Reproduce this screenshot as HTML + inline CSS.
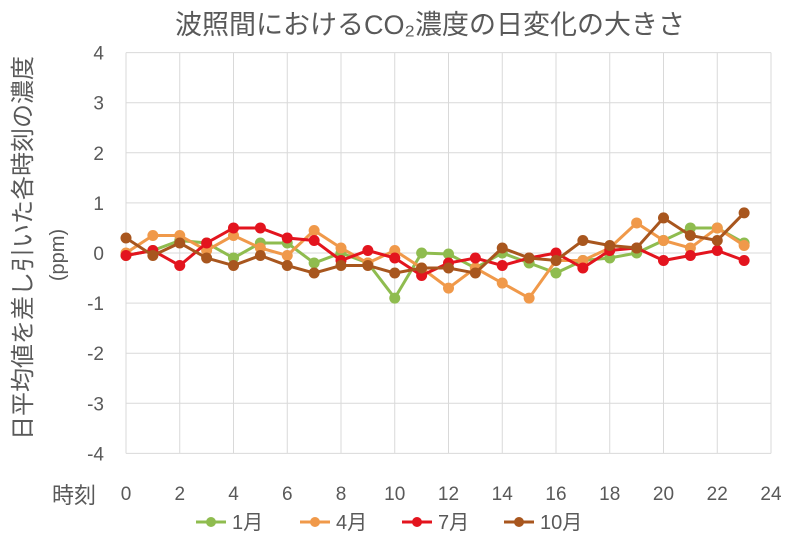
<!DOCTYPE html><html><head><meta charset="utf-8"><style>body{margin:0;background:#fff}svg{display:block}</style></head><body>
<svg width="800" height="545" xmlns="http://www.w3.org/2000/svg" font-family="Liberation Sans, Noto Sans CJK JP, sans-serif">
<text x="430" y="34" font-size="27" text-anchor="middle" fill="#595959">波照間におけるCO₂濃度の日変化の大きさ</text>
<g id="grid" stroke="#d9d9d9" stroke-width="1"></g>
<g id="lab" font-size="19" fill="#595959"></g>
<text x="0" y="0" font-size="24" fill="#595959" transform="translate(31,248) rotate(-90)" text-anchor="middle">日平均値を差し引いた各時刻の濃度</text>
<text x="0" y="0" font-size="20" fill="#595959" transform="translate(64,255) rotate(-90)" text-anchor="middle">(ppm)</text>
<text x="52" y="503" font-size="22" fill="#595959">時刻</text>
<g id="ser"></g>
<g font-size="20" fill="#595959">
<line x1="196" y1="522" x2="226" y2="522" stroke="#8fbc4f" stroke-width="3"/><circle cx="211" cy="522" r="5" fill="#8fbc4f"/><text x="232" y="529">1月</text>
<line x1="300" y1="522" x2="330" y2="522" stroke="#f0994a" stroke-width="3"/><circle cx="315" cy="522" r="5" fill="#f0994a"/><text x="336" y="529">4月</text>
<line x1="402" y1="522" x2="432" y2="522" stroke="#e3141e" stroke-width="3"/><circle cx="417" cy="522" r="5" fill="#e3141e"/><text x="438" y="529">7月</text>
<line x1="504" y1="522" x2="534" y2="522" stroke="#a8561e" stroke-width="3"/><circle cx="519" cy="522" r="5" fill="#a8561e"/><text x="540" y="529">10月</text>
</g>
</svg>
<script>
const X=h=>126+26.875*h,Y=v=>253-50.1*v,ns="http://www.w3.org/2000/svg";
const g=document.getElementById('grid'),l=document.getElementById('lab'),s=document.getElementById('ser');
function el(p,t,a,txt){const e=document.createElementNS(ns,t);for(const k in a)e.setAttribute(k,a[k]);if(txt!=null)e.textContent=txt;p.appendChild(e);return e}
for(let v=-4;v<=4;v++){el(g,'line',{x1:126,x2:771,y1:Y(v),y2:Y(v)});el(l,'text',{x:104,y:Y(v)+7,'text-anchor':'end'},v)}
for(let h=0;h<=24;h+=2){el(g,'line',{x1:X(h),x2:X(h),y1:Y(4),y2:Y(-4)});el(l,'text',{x:X(h),y:500,'text-anchor':'middle'},h)}
const D=[
['#8fbc4f',[-0.05,0.05,0.25,0.2,-0.1,0.2,0.2,-0.2,0.0,-0.2,-0.9,0.0,-0.02,-0.3,0.0,-0.2,-0.4,-0.15,-0.1,0,0.25,0.5,0.5,0.2]],
['#f0994a',[0.0,0.35,0.35,0.05,0.35,0.1,-0.05,0.45,0.1,-0.2,0.05,-0.3,-0.7,-0.3,-0.6,-0.9,-0.15,-0.15,0.1,0.6,0.25,0.1,0.5,0.15]],
['#e3141e',[-0.05,0.05,-0.25,0.2,0.5,0.5,0.3,0.25,-0.15,0.05,-0.1,-0.45,-0.2,-0.1,-0.25,-0.1,0.0,-0.3,0.05,0.1,-0.15,-0.05,0.05,-0.15]],
['#a8561e',[0.3,-0.05,0.2,-0.1,-0.25,-0.05,-0.25,-0.4,-0.25,-0.25,-0.4,-0.3,-0.3,-0.4,0.1,-0.1,-0.15,0.25,0.15,0.1,0.7,0.35,0.25,0.8]]];
for(const [c,d] of D){el(s,'polyline',{points:d.map((v,i)=>X(i)+','+Y(v)).join(' '),fill:'none',stroke:c,'stroke-width':3});d.forEach((v,i)=>el(s,'circle',{cx:X(i),cy:Y(v),r:5.5,fill:c}))}
</script>
</body></html>
